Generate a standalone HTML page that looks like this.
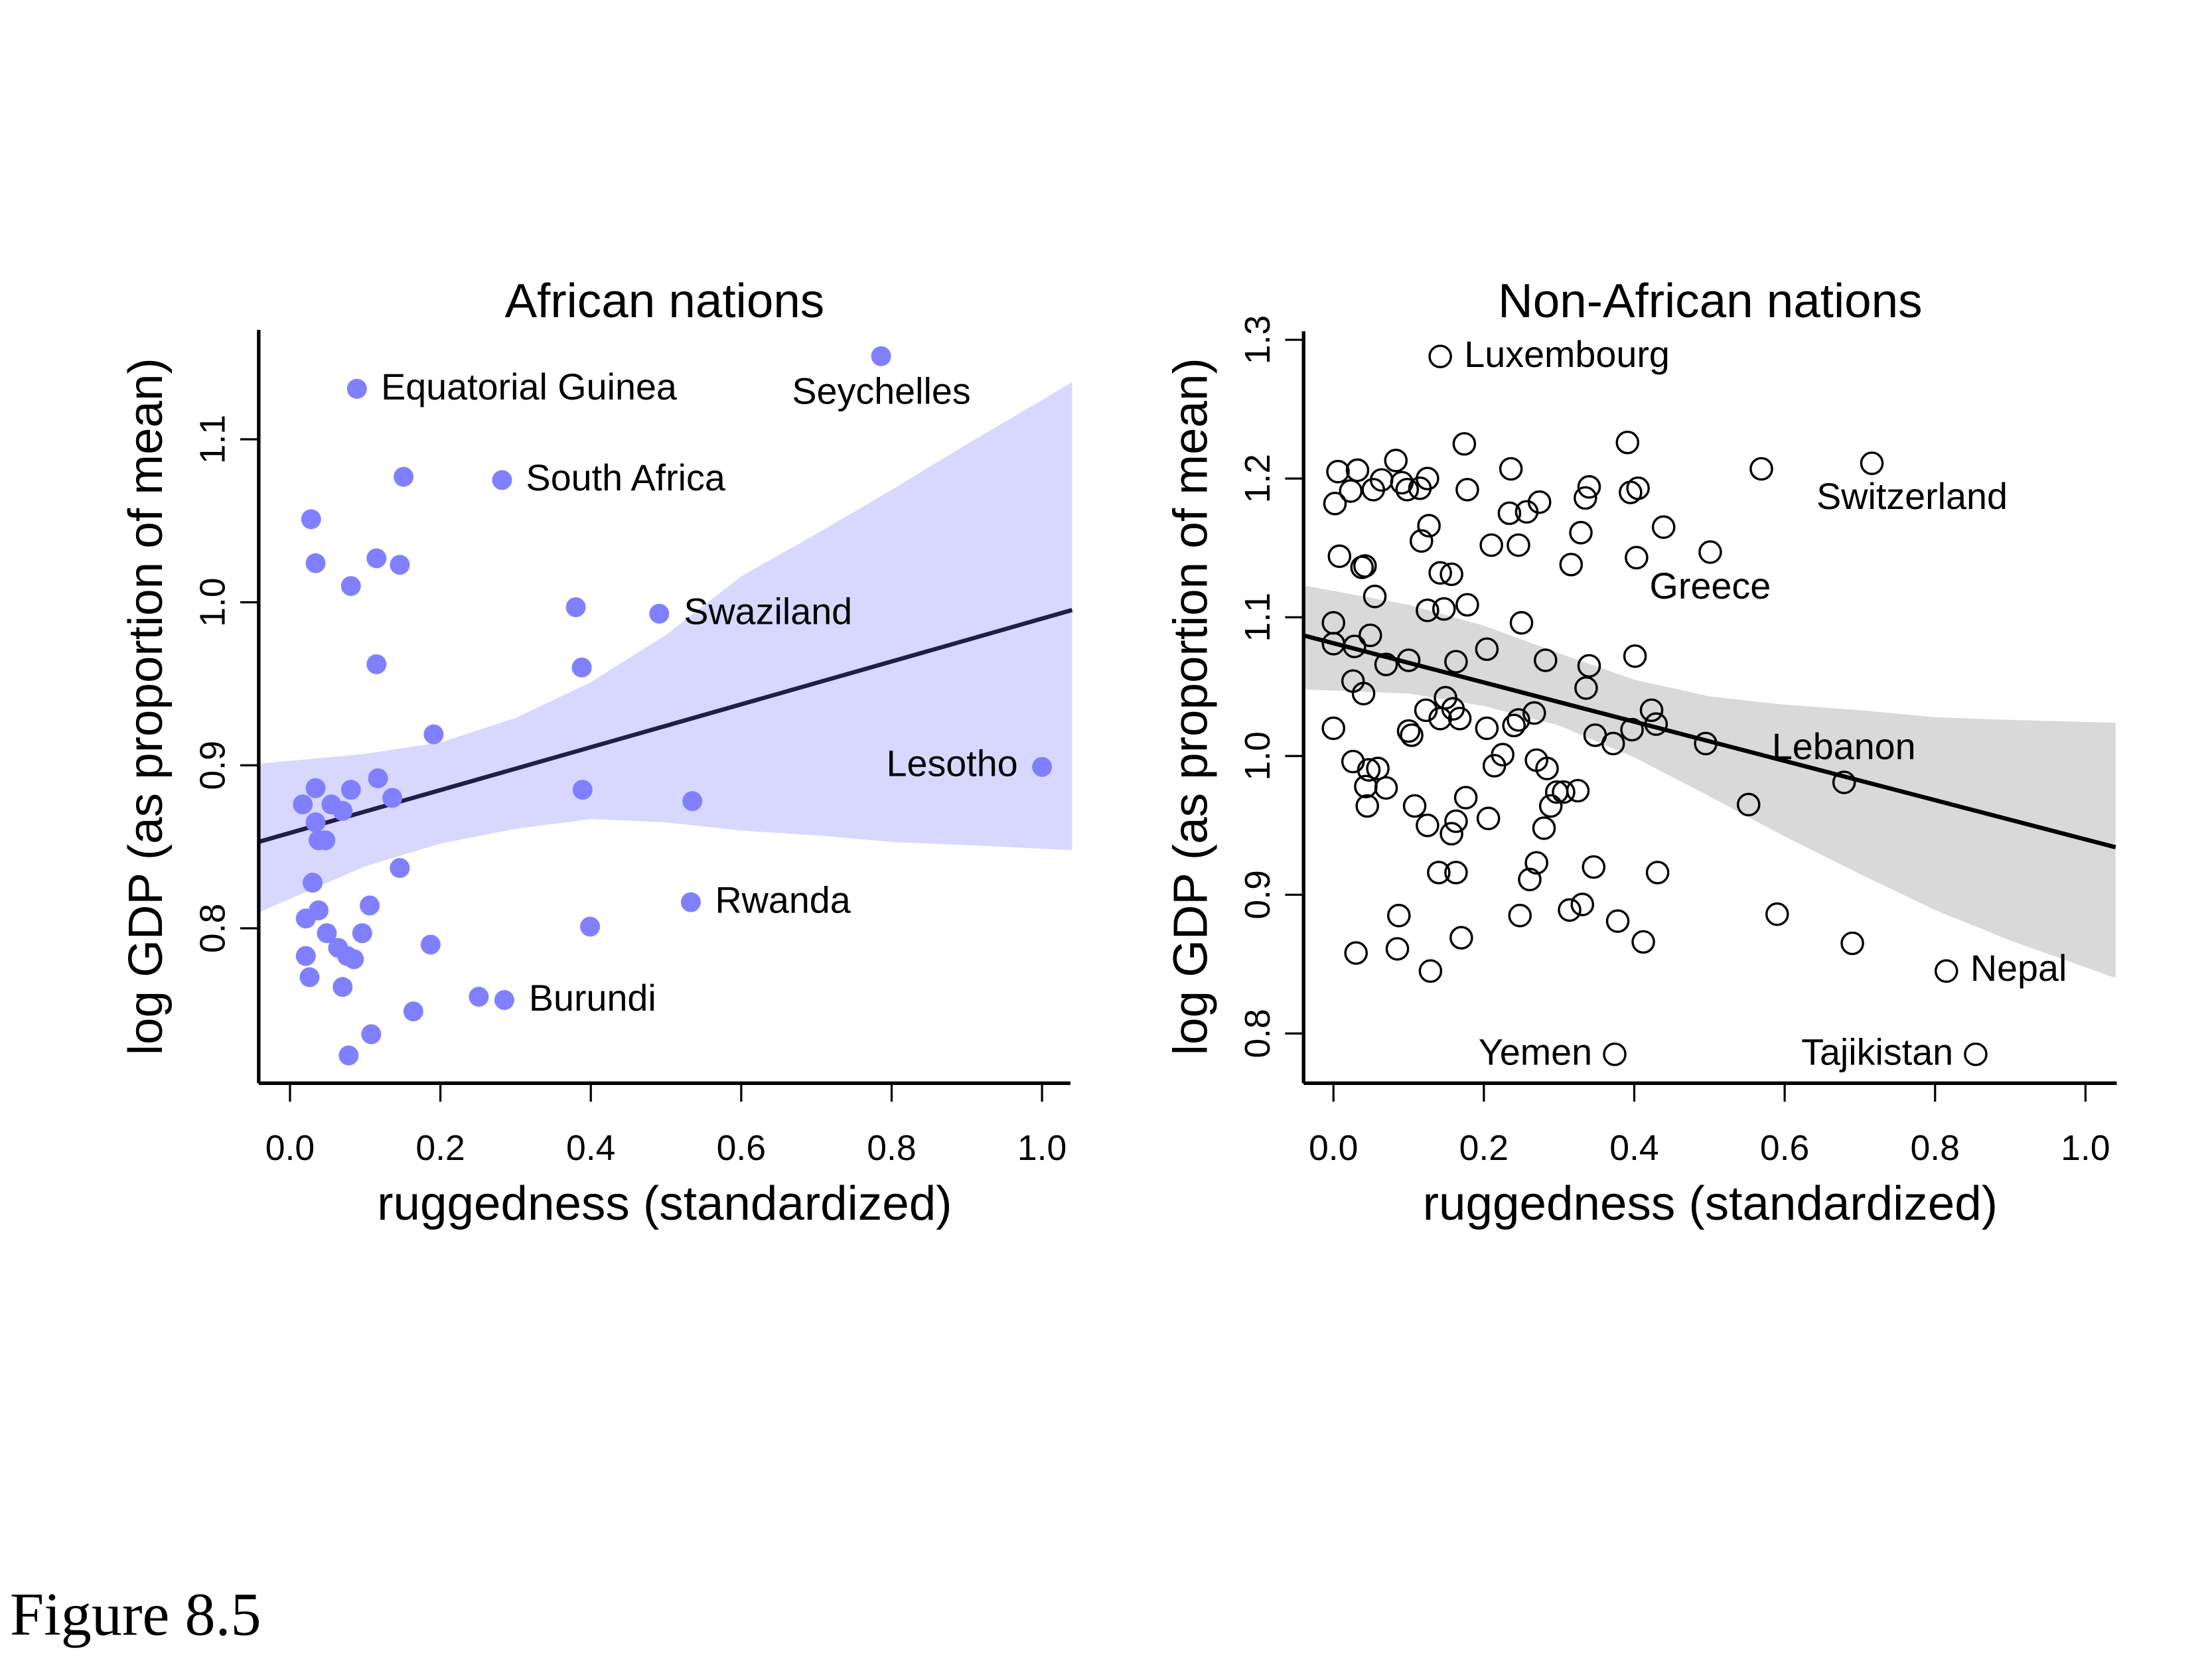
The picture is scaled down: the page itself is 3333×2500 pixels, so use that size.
<!DOCTYPE html>
<html><head><meta charset="utf-8"><style>
html,body{margin:0;padding:0;background:#fff;}
svg{display:block;}
text{font-family:"Liberation Sans",sans-serif;}
</style></head><body>
<svg id="fig" width="3333" height="2500" viewBox="0 0 1556 1167" xmlns="http://www.w3.org/2000/svg">
<g id="left"></g>
<g id="right"></g>
<text x="7" y="1150" font-size="43" style="font-family:'Liberation Serif',serif">Figure 8.5</text>
</svg>
<script>
const afX=[0.089,0.786,0.151,0.282,0.028,0.034,0.081,0.115,0.146,0.380,0.491,0.115,0.388,0.191,1.0,0.017,0.034,0.055,0.070,0.081,0.117,0.136,0.034,0.038,0.047,0.389,0.535,0.146,0.030,0.038,0.021,0.106,0.533,0.049,0.096,0.064,0.076,0.085,0.021,0.026,0.070,0.187,0.399,0.251,0.285,0.164,0.108,0.078];
const afY=[1.131,1.151,1.077,1.075,1.051,1.024,1.010,1.027,1.023,0.997,0.993,0.962,0.960,0.919,0.899,0.876,0.886,0.876,0.872,0.885,0.892,0.880,0.865,0.854,0.854,0.885,0.878,0.837,0.828,0.811,0.806,0.814,0.816,0.797,0.797,0.788,0.783,0.781,0.783,0.770,0.764,0.790,0.801,0.758,0.756,0.749,0.735,0.722];
const afLine=[0.8585,0.1315];
const afBandX=[-0.04,0.1,0.2,0.3,0.4,0.5,0.6,0.7,0.8,0.9,1.04];
const afUpper=[0.901,0.907,0.914,0.929,0.951,0.980,1.016,1.042,1.069,1.097,1.135];
const afLower=[0.810,0.838,0.852,0.861,0.867,0.865,0.860,0.857,0.853,0.851,0.848];
const afYTicks=[0.8,0.9,1.0,1.1];
const xTicks=[0,0.2,0.4,0.6,0.8,1.0];

const naX=[0.142,0.716,0.403,0.679,0.815,0.854,0.374,0.006,0.032,0.083,0.174,0.391,0.236,0.569,0.002,0.023,0.053,0.064,0.091,0.098,0.115,0.125,0.178,0.340,0.335,0.405,0.395,0.274,0.257,0.234,0.127,0.117,0.210,0.246,0.329,0.439,0.501,0.316,0.008,0.038,0.042,0.142,0.157,0.055,0.125,0.147,0.178,0.000,0.049,0.000,0.028,0.250,0.204,0.100,0.070,0.163,0.282,0.401,0.340,0.026,0.040,0.149,0.159,0.267,0.246,0.142,0.168,0.123,0.100,0.104,0.000,0.204,0.240,0.336,0.423,0.429,0.348,0.372,0.397,0.495,0.270,0.225,0.214,0.026,0.047,0.059,0.043,0.070,0.045,0.284,0.297,0.306,0.289,0.325,0.280,0.176,0.163,0.108,0.206,0.125,0.157,0.552,0.346,0.270,0.431,0.140,0.163,0.261,0.248,0.331,0.314,0.378,0.087,0.170,0.412,0.590,0.690,0.030,0.085,0.129];
const naY=[1.288,1.211,1.143,0.981,0.845,0.785,0.785,1.205,1.206,1.213,1.225,1.226,1.207,1.207,1.182,1.191,1.192,1.199,1.197,1.192,1.193,1.200,1.192,1.194,1.186,1.193,1.190,1.183,1.176,1.175,1.166,1.155,1.152,1.152,1.161,1.165,1.147,1.138,1.144,1.136,1.137,1.132,1.131,1.115,1.105,1.106,1.109,1.096,1.087,1.081,1.079,1.096,1.077,1.069,1.066,1.068,1.069,1.072,1.065,1.054,1.045,1.042,1.034,1.031,1.026,1.027,1.027,1.033,1.018,1.015,1.020,1.020,1.022,1.049,1.033,1.023,1.015,1.009,1.019,1.009,0.997,1.001,0.993,0.996,0.990,0.991,0.978,0.977,0.964,0.991,0.974,0.974,0.964,0.975,0.948,0.970,0.953,0.964,0.955,0.950,0.944,0.965,0.920,0.923,0.916,0.916,0.916,0.911,0.885,0.893,0.889,0.881,0.885,0.869,0.866,0.886,0.865,0.858,0.861,0.845];
const naLine=[1.0813,-0.1414];
const naBandX=[-0.04,0.1,0.2,0.3,0.4,0.5,0.6,0.7,0.8,0.9,1.04];
const naUpper=[1.123,1.109,1.094,1.074,1.055,1.043,1.037,1.033,1.028,1.026,1.024];
const naLower=[1.048,1.045,1.036,1.022,0.999,0.971,0.942,0.915,0.889,0.867,0.840];
const naYTicks=[0.8,0.9,1.0,1.1,1.2,1.3];

const NS="http://www.w3.org/2000/svg";
function mk(p,tag,attrs){const e=document.createElementNS(NS,tag);for(const k in attrs)e.setAttribute(k,attrs[k]);p.appendChild(e);return e;}

function panel(g,cfg){
  const sx=v=>cfg.x0+(cfg.x1-cfg.x0)*v;
  const sy=v=>cfg.yA+(v-cfg.vA)*(cfg.yB-cfg.yA)/(cfg.vB-cfg.vA);
  let d="";
  cfg.bandX.forEach((x,i)=>{d+=(i?"L":"M")+sx(x)+","+sy(cfg.upper[i]);});
  for(let i=cfg.bandX.length-1;i>=0;i--)d+="L"+sx(cfg.bandX[i])+","+sy(cfg.lower[i]);
  const band=mk(g,"path",{d:d+"Z",fill:cfg.bandFill,stroke:"none"});
  
  
  const lx0=cfg.bandX[0],lx1=cfg.bandX[cfg.bandX.length-1];
  const ln=mk(g,"line",{x1:sx(lx0),y1:sy(cfg.line[0]+cfg.line[1]*lx0),x2:sx(lx1),y2:sy(cfg.line[0]+cfg.line[1]*lx1),stroke:cfg.lineCol,"stroke-width":3});
  
  
  cfg.px.forEach((x,i)=>{
    const c=mk(g,"circle",cfg.filled?{cx:sx(x),cy:sy(cfg.py[i]),r:7,fill:"#8080FF"}:{cx:sx(x),cy:sy(cfg.py[i]),r:7.5,fill:"none",stroke:"#000","stroke-width":1.6});
    
    
  });
  const ax=mk(g,"line",{x1:cfg.axL,y1:762,x2:cfg.axR,y2:762,stroke:"#000","stroke-width":2.5});
  
  
  const ay=mk(g,"line",{x1:cfg.axL,y1:cfg.axTop,x2:cfg.axL,y2:762,stroke:"#000","stroke-width":2.5});
  
  
  xTicks.forEach(t=>{
    const tk=mk(g,"line",{x1:sx(t),y1:762,x2:sx(t),y2:775,stroke:"#000","stroke-width":1.5});
    
    
    const tl=mk(g,"text",{x:sx(t),y:816,"font-size":25,"text-anchor":"middle"});
    tl.textContent=t.toFixed(1);
    
    
  });
  cfg.yTicks.forEach(t=>{
    const tk=mk(g,"line",{x1:cfg.axL-13,y1:sy(t),x2:cfg.axL,y2:sy(t),stroke:"#000","stroke-width":1.5});
    
    
    const tl=mk(g,"text",{x:cfg.axL-24,y:sy(t),"font-size":25,"text-anchor":"middle",transform:`rotate(-90 ${cfg.axL-24} ${sy(t)})`});
    tl.textContent=t.toFixed(1);
    
    
  });
  const cx=(cfg.axL+cfg.axR)/2;
  const ti=mk(g,"text",{x:cx,y:223,"font-size":34,"text-anchor":"middle"});
  ti.textContent=cfg.title;
  
  
  const xl=mk(g,"text",{x:cx,y:858,"font-size":34,"text-anchor":"middle"});
  xl.textContent="ruggedness (standardized)";
  
  
  const yx=cfg.axL-68;
  const yl=mk(g,"text",{x:yx,y:497,"font-size":34,"text-anchor":"middle",transform:`rotate(-90 ${yx} 497)`});
  yl.textContent="log GDP (as proportion of mean)";
  
  
  cfg.labels.forEach(l=>{
    const t=mk(g,"text",{x:l[1],y:l[2],"font-size":26,"text-anchor":l[3]||"start"});
    t.textContent=l[0];
    
    
  });
}

panel(document.getElementById('left'),{x0:204,x1:733,yA:653,vA:0.8,yB:309,vB:1.1,axL:182,axR:753,axTop:232,
  bandX:afBandX,upper:afUpper,lower:afLower,line:afLine,px:afX,py:afY,filled:true,bandFill:"#D8D8FF",lineCol:"#1E1E48",
  yTicks:afYTicks,title:"African nations",
  labels:[["Equatorial Guinea",268,281],["Seychelles",620,284,"middle"],["South Africa",370,345],["Swaziland",481,439],["Lesotho",716,546,"end"],["Rwanda",503,642],["Burundi",372,711]]});
panel(document.getElementById('right'),{x0:938,x1:1467,yA:727,vA:0.8,yB:239,vB:1.3,axL:917,axR:1489,axTop:233,
  bandX:naBandX,upper:naUpper,lower:naLower,line:naLine,px:naX,py:naY,filled:false,bandFill:"#D9D9D9",lineCol:"#000",
  yTicks:naYTicks,title:"Non-African nations",
  labels:[["Luxembourg",1030,258],["Switzerland",1345,358,"middle"],["Greece",1203,421,"middle"],["Lebanon",1297,534,"middle"],["Nepal",1386,690],["Tajikistan",1374,749,"end"],["Yemen",1120,749,"end"]]});
</script>
</body></html>
